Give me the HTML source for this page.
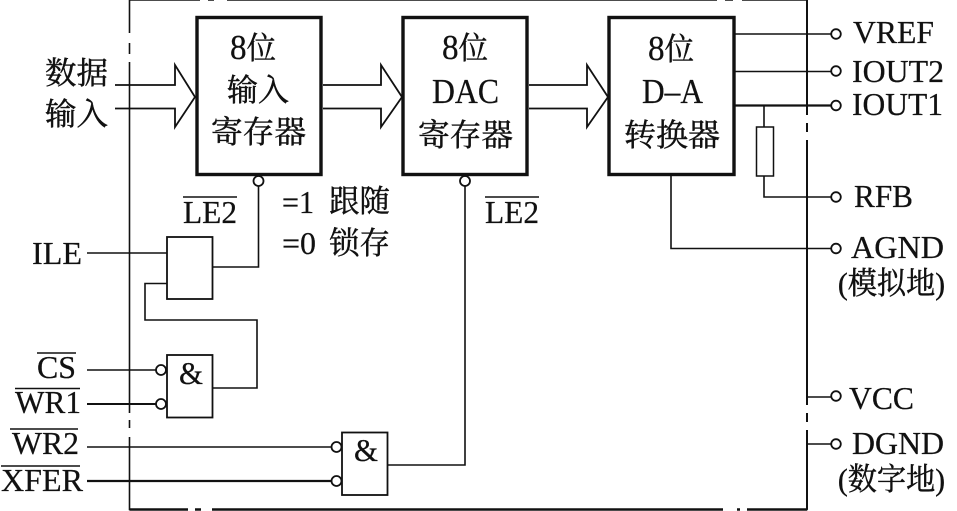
<!DOCTYPE html>
<html><head><meta charset="utf-8"><style>
html,body{margin:0;padding:0;background:#fff}
svg{display:block;filter:blur(0.35px)}
text{font-family:"Liberation Serif","Noto Serif CJK SC",serif;font-size:32px;fill:#111;stroke:#111;stroke-width:.25}
.big{font-size:35px}
.cjk{font-size:31px;stroke-width:.45}
.w{fill:none;stroke:#111;stroke-width:1.6}
.t{fill:none;stroke:#111;stroke-width:2.2}
.b{fill:#fff;stroke:#111;stroke-width:3.4}
.g{fill:#fff;stroke:#111;stroke-width:1.8}
.c{fill:#fff;stroke:#111;stroke-width:1.8}
.e{fill:#fff;stroke:none}
</style></head><body>
<svg width="957" height="511" viewBox="0 0 957 511" xmlns="http://www.w3.org/2000/svg">
<!-- outer frame -->
<path class="w" d="M129.5 0H807V509.5H129.5Z"/>
<path d="M129.5 509.5H807" fill="none" stroke="#111" stroke-width="2.6"/>
<path d="M807 0V509.5" fill="none" stroke="#111" stroke-width="2"/>
<rect class="e" x="127" y="33" width="5" height="10"/><rect class="e" x="127" y="54" width="5" height="8"/>
<rect class="e" x="127" y="413" width="5" height="7"/><rect class="e" x="127" y="428" width="5" height="9"/>
<rect class="e" x="200" y="-1" width="8" height="4"/><rect class="e" x="214" y="-1" width="13" height="4"/>
<rect class="e" x="717" y="-1" width="8" height="4"/><rect class="e" x="733" y="-1" width="9" height="4"/>
<rect class="e" x="804" y="115" width="6" height="8"/><rect class="e" x="804" y="132" width="6" height="8"/>
<rect class="e" x="804" y="405" width="6" height="8"/><rect class="e" x="804" y="422" width="6" height="8"/>
<rect class="e" x="188" y="506" width="7" height="5"/><rect class="e" x="201" y="506" width="11" height="5"/>
<rect class="e" x="723" y="506" width="14" height="5"/><rect class="e" x="740" y="506" width="7" height="5"/>

<!-- wide arrows -->
<path class="t" d="M115 85H175V65L195 97L175 127V108.5H115" style="stroke-width:1.8"/>
<path class="t" d="M323 85H381V65L402 97L381 127V108.5H323" style="stroke-width:1.8"/>
<path class="t" d="M529 85H587V65L608 97L587 127V108.5H529" style="stroke-width:1.8"/>

<!-- main blocks -->
<rect class="b" x="197" y="17.5" width="124" height="157"/>
<rect class="b" x="403" y="17.5" width="124" height="157"/>
<rect class="b" x="609" y="17.5" width="125" height="157"/>

<!-- right wires -->
<path class="w" d="M734 34H832M734 71.5H832"/>
<path class="t" d="M734 105.5H832"/>
<path class="w" d="M764 105.5V127M764 176V197H832M671 174V248.5H832M807 397H832M807 444H832"/>
<rect class="g" x="756.5" y="127" width="17" height="49" style="stroke-width:1.5"/>
<circle class="c" cx="836" cy="34" r="4.8"/>
<circle class="c" cx="836" cy="71" r="4.8"/>
<circle class="c" cx="836" cy="105.5" r="4.8"/>
<circle class="c" cx="836" cy="197" r="4.8"/>
<circle class="c" cx="836" cy="248.5" r="4.8"/>
<circle class="c" cx="836" cy="396" r="4.8"/>
<circle class="c" cx="836" cy="444" r="4.8"/>

<!-- logic -->
<path class="w" d="M258.5 186V267H212.5M87 253H167M167 283.5H145V320H257V388H212.5M388 465H465V186"/>
<path class="w" d="M87 370H156"/>
<path class="t" d="M87 404H156" style="stroke-width:1.9"/>
<path class="w" d="M87 447H331"/>
<path class="t" d="M87 481H331"/>
<rect class="g" x="167" y="237" width="45.5" height="62"/>
<rect class="g" x="167" y="355" width="45.5" height="62.5"/>
<rect class="g" x="342" y="432.5" width="45.5" height="62.5"/>
<circle class="c" cx="258.5" cy="181" r="5"/>
<circle class="c" cx="465" cy="181" r="5"/>
<circle class="c" cx="161" cy="370" r="5"/>
<circle class="c" cx="161" cy="404" r="5"/>
<circle class="c" cx="336.5" cy="447" r="5"/>
<circle class="c" cx="336.5" cy="481" r="5"/>

<!-- overbars -->
<path class="w" d="M183 197H237M485 197H539M37 353H76M15 388.5H80M10 429H78M1 466H80"/>

<!-- block text -->
<text x="230" y="59" textLength="46" lengthAdjust="spacingAndGlyphs"><tspan class="big">8</tspan><tspan class="cjk">位</tspan></text>
<text x="227" y="101" class="cjk" textLength="62" lengthAdjust="spacingAndGlyphs">输入</text>
<text x="211" y="143" class="cjk" textLength="95" lengthAdjust="spacingAndGlyphs">寄存器</text>
<text x="442" y="59" textLength="46" lengthAdjust="spacingAndGlyphs"><tspan class="big">8</tspan><tspan class="cjk">位</tspan></text>
<text x="432" y="103" class="big" textLength="67" lengthAdjust="spacingAndGlyphs">DAC</text>
<text x="418" y="146" class="cjk" textLength="95" lengthAdjust="spacingAndGlyphs">寄存器</text>
<text x="648" y="60" textLength="46" lengthAdjust="spacingAndGlyphs"><tspan class="big">8</tspan><tspan class="cjk">位</tspan></text>
<text x="642" y="103" class="big" textLength="61" lengthAdjust="spacingAndGlyphs">D–A</text>
<text x="624" y="146" class="cjk" textLength="96" lengthAdjust="spacingAndGlyphs">转换器</text>

<!-- left labels -->
<text x="45" y="84" class="cjk" textLength="63" lengthAdjust="spacingAndGlyphs">数据</text>
<text x="45" y="125" class="cjk" textLength="63" lengthAdjust="spacingAndGlyphs">输入</text>
<text x="32" y="264" textLength="50" lengthAdjust="spacingAndGlyphs">ILE</text>
<text x="37" y="378" textLength="39" lengthAdjust="spacingAndGlyphs">CS</text>
<text x="15" y="413" textLength="66" lengthAdjust="spacingAndGlyphs">WR1</text>
<text x="12" y="454" textLength="67" lengthAdjust="spacingAndGlyphs">WR2</text>
<text x="1" y="491" textLength="82" lengthAdjust="spacingAndGlyphs">XFER</text>

<!-- center labels -->
<text x="183" y="223" textLength="54" lengthAdjust="spacingAndGlyphs">LE2</text>
<text x="485" y="223" textLength="54" lengthAdjust="spacingAndGlyphs">LE2</text>
<text x="282" y="213" textLength="32" lengthAdjust="spacingAndGlyphs">=1</text>
<text x="329" y="212" class="cjk" textLength="61" lengthAdjust="spacingAndGlyphs">跟随</text>
<text x="282" y="254" textLength="34" lengthAdjust="spacingAndGlyphs">=0</text>
<text x="329" y="254" class="cjk" textLength="61" lengthAdjust="spacingAndGlyphs">锁存</text>
<text x="179" y="384" textLength="24" lengthAdjust="spacingAndGlyphs">&amp;</text>
<text x="354" y="461" textLength="24" lengthAdjust="spacingAndGlyphs">&amp;</text>

<!-- right labels -->
<text x="853" y="43" textLength="81" lengthAdjust="spacingAndGlyphs">VREF</text>
<text x="852" y="82" textLength="92" lengthAdjust="spacingAndGlyphs">IOUT2</text>
<text x="852" y="115" textLength="91" lengthAdjust="spacingAndGlyphs">IOUT1</text>
<text x="854" y="207" textLength="59" lengthAdjust="spacingAndGlyphs">RFB</text>
<text x="851" y="258" textLength="93" lengthAdjust="spacingAndGlyphs">AGND</text>
<text x="838" y="294" class="cjk" textLength="107" lengthAdjust="spacingAndGlyphs">(模拟地)</text>
<text x="849" y="409" textLength="65" lengthAdjust="spacingAndGlyphs">VCC</text>
<text x="852" y="454" textLength="92" lengthAdjust="spacingAndGlyphs">DGND</text>
<text x="838" y="490" class="cjk" textLength="107" lengthAdjust="spacingAndGlyphs">(数字地)</text>
</svg>
</body></html>
